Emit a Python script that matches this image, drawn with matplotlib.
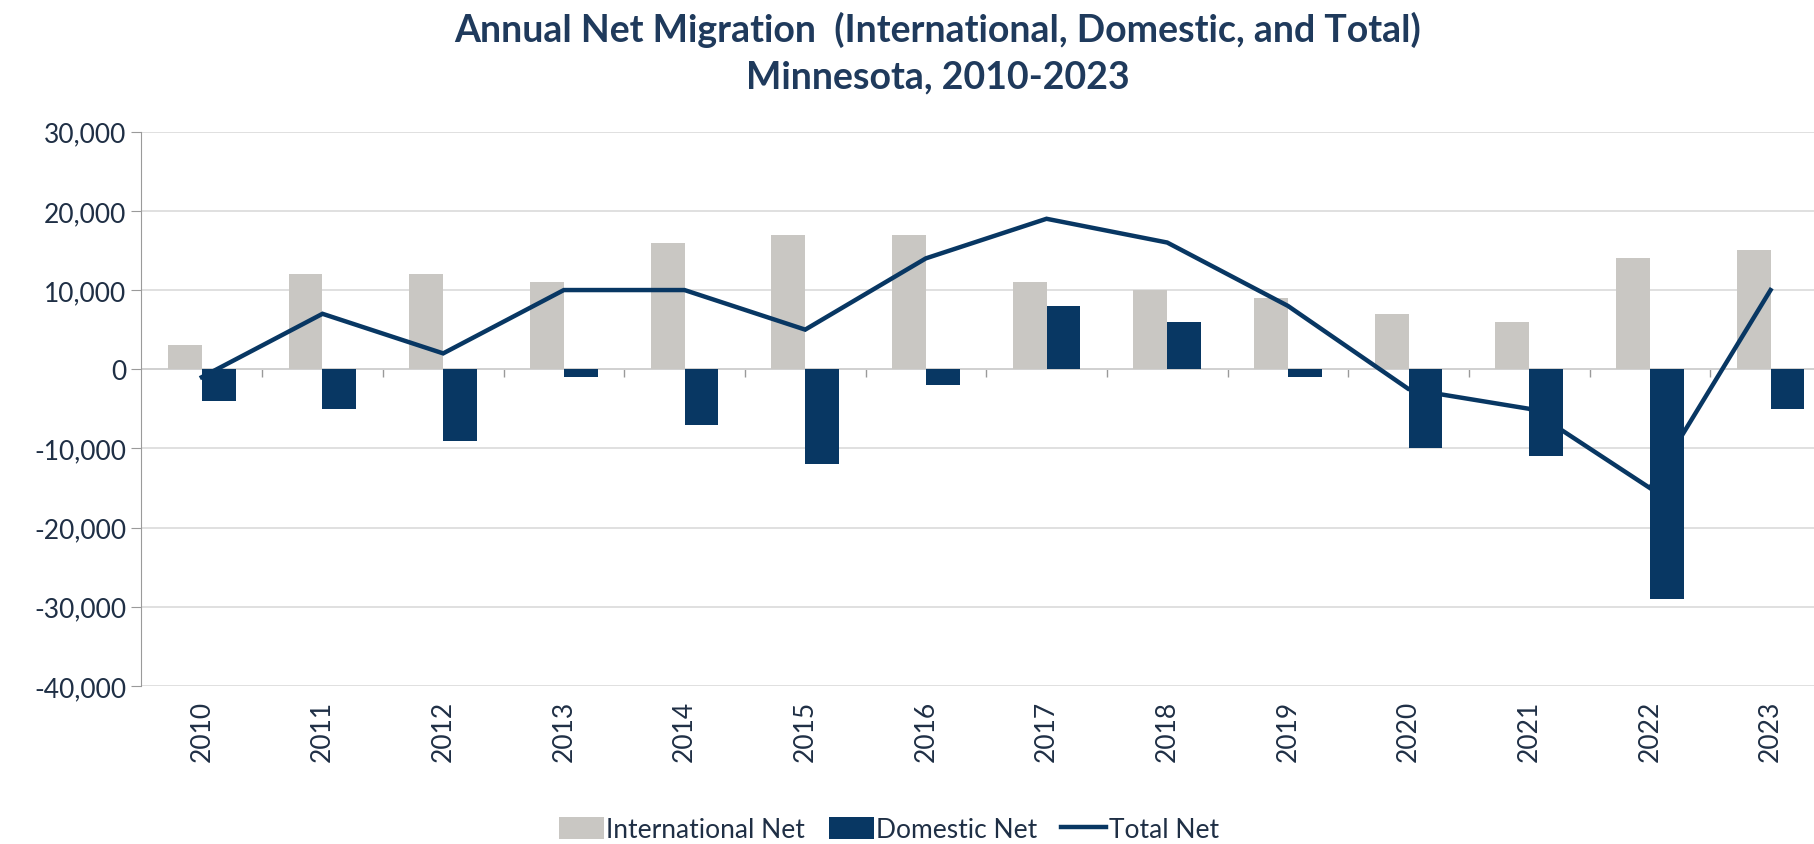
import matplotlib.pyplot as plt
import numpy as np

years = ["2010", "2011", "2012", "2013", "2014", "2015", "2016",
         "2017", "2018", "2019", "2020", "2021", "2022", "2023"]
international_net = [3000, 12000, 12000, 11000, 16000, 17000, 17000,
                     11000, 10000, 9000, 7000, 6000, 14000, 15000]
domestic_net = [-4000, -5000, -9000, -1000, -7000, -12000, -2000,
                8000, 6000, -1000, -10000, -11000, -29000, -5000]
total_net = [-1000, 7000, 2000, 10000, 10000, 5000, 14000,
             19000, 16000, 8000, -2500, -5000, -15000, 10000]

GRAY = "#C9C7C3"
NAVY = "#083763"
TEXT = "#1F2F45"
TITLE = "#1F3A5C"


def graph_plot():
    plt.rcParams["font.family"] = ["Lato", "DejaVu Sans"]
    fig = plt.figure(figsize=(18.14, 8.45), dpi=100)
    ax = fig.add_axes([0.078, 0.187, 0.922, 0.656])

    x = np.arange(len(years))
    w = 0.28
    b1 = ax.bar(x - w / 2, international_net, w, color=GRAY, label="International Net", zorder=2)
    b2 = ax.bar(x + w / 2, domestic_net, w, color=NAVY, label="Domestic Net", zorder=2)
    ln, = ax.plot(x, total_net, color=NAVY, lw=3.2, label="Total Net", zorder=3,
                  solid_joinstyle="miter")

    ax.set_ylim(-40000, 30000)
    ax.set_xlim(-0.5, 13.36)
    ax.set_yticks(np.arange(-40000, 30001, 10000))
    ax.set_yticklabels([f"{v:,}" for v in range(-40000, 30001, 10000)])
    ax.grid(axis="y", color="#DADADA", lw=1.2, zorder=0)

    # zero axis with category separator ticks
    ax.axhline(0, color="#9A9A9A", lw=1.2, zorder=1)
    ax.vlines(x[:-1] + 0.5, -1000, 0, color="#9A9A9A", lw=1.0, zorder=1)

    ax.set_xticks(x)
    ax.set_xticklabels(years, rotation=90)
    ax.tick_params(axis="x", length=0, pad=10, labelsize=19, colors=TEXT)
    ax.tick_params(axis="y", length=7, color="#9A9A9A", labelsize=19, colors=TEXT, pad=4)

    for s in ["top", "right", "bottom"]:
        ax.spines[s].set_visible(False)
    ax.spines["left"].set_color("#9A9A9A")

    fig.text(0.517, 0.965, "Annual Net Migration  (International, Domestic, and Total)",
             ha="center", va="center", fontsize=27, fontweight="bold", color=TITLE)
    fig.text(0.517, 0.908, "Minnesota, 2010-2023",
             ha="center", va="center", fontsize=27, fontweight="bold", color=TITLE)

    fig.legend([b1, b2, ln], ["International Net", "Domestic Net", "Total Net"],
               loc="center", bbox_to_anchor=(0.49, 0.017), ncol=3, frameon=False,
               fontsize=19, handlelength=1.7, handleheight=0.9, handletextpad=0.1,
               columnspacing=0.9, labelcolor=TEXT)

    fig.savefig("out.png", dpi=100)


def main():
    graph_plot()


if __name__ == "__main__":
    main()
